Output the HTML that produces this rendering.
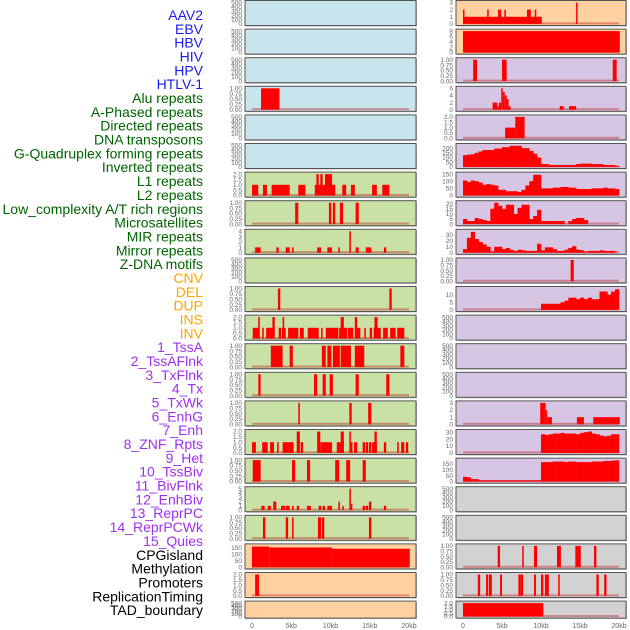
<!DOCTYPE html>
<html><head><meta charset="utf-8">
<style>
html,body{margin:0;padding:0;background:#fff;width:630px;height:630px;overflow:hidden}
svg{display:block}
text{font-family:"Liberation Sans",sans-serif}
</style></head>
<body>
<svg id="chart" width="630" height="630" viewBox="0 0 630 630"></svg>
<script>
// ---------- labels ----------
const trackLabels = ["AAV2","EBV","HBV","HIV","HPV","HTLV-1","Alu repeats","A-Phased repeats","Directed repeats","DNA transposons","G-Quadruplex forming repeats","Inverted repeats","L1 repeats","L2 repeats","Low_complexity A/T rich regions","Microsatellites","MIR repeats","Mirror repeats","Z-DNA motifs","CNV","DEL","DUP","INS","INV","1_TssA","2_TssAFlnk","3_TxFlnk","4_Tx","5_TxWk","6_EnhG","7_Enh","8_ZNF_Rpts","9_Het","10_TssBiv","11_BivFlnk","12_EnhBiv","13_ReprPC","14_ReprPCWk","15_Quies","CPGisland","Methylation","Promoters","ReplicationTiming","TAD_boundary"];
const labelGroups = [6,13,5,15,5];
const groupColors = ["#1a1aee","#006400","#ffa500","#a030f0","#000000"];
const xTickValues = [0,5,10,15,20];
const xTickLabels = ["0","5kb","10kb","15kb","20kb"];

// ---------- tick sets ----------
const ticksEmpty = [0,100,200,300,400,500];
const ticksOne = [0,0.25,0.5,0.75,1.0];
const ticksTwo = [0,0.5,1.0,1.5,2.0];

// ---------- column 1 data (segments: [startKb, endKb, value]) ----------
const segHIV = [[1.15,3.5,1]];
const segL1 = [[0,0.8,1],[1.4,1.9,1],[2.5,3.3,1],[3.3,4.8,1],[5.9,6.8,1],[8.0,9.0,1],[8.2,8.5,2],[8.7,9.0,2],[9.0,10.6,1],[9.3,10.2,2],[11.5,12.0,1],[12.6,13.1,1],[15.3,15.9,1],[16.6,17.5,1]];
const segL2 = [[5.5,5.9,1],[9.8,10.1,1],[10.3,10.6,1],[11.2,11.6,1],[13.2,13.6,1]];
const segLowC = [[0.4,1.1,1],[3.1,3.4,1],[4.3,4.8,1],[5.1,5.3,1],[8.3,8.8,1],[9.6,10.2,1],[11.0,11.2,1],[12.4,12.6,4],[13.2,13.6,1],[14.5,15.2,1],[16.8,17.1,1]];
const segMIR = [[3.3,3.6,1],[17.5,17.8,1]];
const segMirror = [[0.1,0.9,1],[0.8,1.0,2],[1.3,1.5,1],[1.8,2.8,1],[2.6,2.9,2],[3.4,3.7,1],[3.8,4.3,1],[3.9,4.1,2],[4.6,5.9,1],[6.1,6.6,1],[7.1,8.5,1],[8.8,9.0,1],[9.4,11.0,1],[11.1,12.1,1],[11.3,11.7,2],[12.2,12.9,1],[13.1,13.8,1],[13.1,13.4,2],[14.3,14.5,1],[15.0,15.3,1],[15.5,16.4,1],[15.6,16.0,2],[16.7,17.3,1],[17.6,18.3,1],[18.5,19.4,1]];
const segZDNA = [[2.4,3.9,1],[4.8,5.2,1],[8.9,9.4,1],[9.6,10.1,1],[10.3,11.2,1],[11.3,12.6,1],[13.1,14.3,1],[18.9,19.4,1]];
const segCNV = [[0.8,1.1,1],[7.9,8.3,1],[9.0,9.4,1],[9.9,10.3,1],[13.2,13.6,1],[17.1,17.5,1]];
const segDEL = [[5.9,6.1,1],[12.4,12.7,1],[14.8,15.2,1]];
const segDUP = [[0,0.5,1],[1.3,2.0,1],[2.3,2.8,1],[3.2,3.4,1],[3.9,5.3,1],[5.7,6.1,2],[6.2,6.5,1],[8.3,8.7,2],[8.7,8.9,1],[8.9,10.2,1],[10.8,11.7,1],[11.3,11.7,2],[12.4,12.6,2],[12.6,12.8,1],[13.0,13.4,1],[14.1,14.4,1],[14.5,14.8,1],[14.9,15.2,1],[15.3,15.9,1],[15.6,15.9,2],[16.8,17.1,1],[18.5,18.7,1],[19.0,19.4,1],[19.6,19.9,1]];
const segINSa = [[0.1,1.1,1],[5.1,5.5,1],[7.0,7.4,1],[10.6,11.1,1],[12.0,12.5,1],[14.1,14.5,1]];
const segINVa = [[1.2,1.6,1],[2.0,2.4,1],[2.7,3.1,2],[3.7,4.2,1],[4.3,4.8,1],[5.1,5.3,1],[5.7,6.0,1],[7.0,7.5,1],[8.5,8.8,1],[9.0,9.3,1],[9.6,10.2,1],[11.0,11.2,2],[11.5,11.7,1],[12.4,12.6,5],[12.6,12.75,1.5],[14.1,14.4,1],[14.5,14.8,1],[14.9,15.2,2],[16.8,17.1,1]];
const segR18 = [[1.4,1.7,1],[4.3,4.6,1],[5.1,5.3,1],[8.4,8.8,1],[8.9,9.2,1],[14.9,15.2,1]];
const segCpG = [[0,2.2,160],[2.2,10.2,153],[10.2,20.1,143]];
const segMeth = [[0.4,0.9,2]];

// ---------- column 2 data ----------
const segINS = [[0,0.1,2],[0.1,10.1,1],[3.1,3.3,2],[4.5,4.9,2],[5.3,5.5,2],[8.2,8.7,2],[9.2,9.4,2],[14.5,14.6,3]];
const segINV = [[0,20.1,8]];
const segTssA = [[1.3,1.8,1],[5.0,5.6,1],[19.2,19.7,1]];
const segTssAFlnk = [[3.8,4.4,2],[4.4,4.6,1],[4.6,4.9,2],[4.9,5.1,6],[5.1,5.35,5],[5.35,5.6,4],[5.6,5.85,3],[5.85,6.1,1],[12.4,12.9,1],[13.6,14.5,1]];
const segTxFlnk = [[5.4,6.7,1],[6.7,7.9,2]];
const binTx = [125,130,135,150,165,180,180,180,195,195,210,210,225,225,225,200,200,170,140,100,30,30,20,20,20,20,20,20,20,30,35,35,35,30,30,30,20,20,20,10];
const binTxWk = [105,95,105,100,90,75,80,75,70,40,40,30,30,30,25,40,70,100,145,145,50,50,50,55,55,60,60,55,55,45,45,45,45,50,50,50,55,50,50,45];
const binEnhG = [5,3,3,6,5,4,3,15,21,18,15,19,19,10,16,19,19,5,8,14,3,3,3,3,3,3,0,3,5,6,6,4,0,0,0,0,0,0,0,0];
const binEnh = [6,25,35,23,18,14,10,2,10,10,6,8,5,3,5,4,3,3,3,15,4,9,9,6,3,3,5,8,11,5,4,2,3,3,3,4,3,3,3,0];
const segHet = [[13.8,14.2,1]];
const binTssBiv = [0,0,0,0,0,0,0,0,0,0,0,0,0,0,0,0,0,0,0,0,4,4,4,4,4,5,6,8,8,7,8,7,8,7,7,12,12,10,12,13.5];
const segEnhBiv = [[9.9,10.6,3],[10.6,10.8,2],[10.8,11.4,1],[14.6,15.5,1],[16.7,20.1,1]];
const binReprPC = [0,0,0,0,0,0,0,0,0,0,0,0,0,0,0,0,0,0,0,0,27,26,27,28,28,29,28,28,28,27,29,30,31,28,27,25,24,25,27,27];
const binReprPCWk = [40,35,20,20,10,10,10,10,10,10,10,10,10,10,10,10,10,10,10,10,165,165,165,170,170,170,165,170,170,165,165,165,165,170,170,170,175,175,178,180];
const segMethyl2 = [[4.45,4.75,1],[7.6,7.8,1],[9.1,9.5,1],[12.05,12.55,1],[14.4,15.1,1],[16.8,17.1,1]];
const segProm = [[1.9,2.2,1],[2.95,3.2,1],[3.3,3.7,1],[4.75,5.0,1],[7.1,7.4,1],[7.4,7.7,1],[9.1,9.35,1],[10.0,10.3,1],[10.5,11.0,1],[12.2,12.4,1],[17.1,17.4,1],[18.1,18.4,1]];
const segTAD = [[0,10.3,2]];

// ---------- panel definitions ----------
const BLUE="#c8e4ec", GREEN="#c9e1a5", ORANGE="#ffd1a1", PURPLE="#d7c6e3", GRAY="#d2d2d2";
const panels = [
 // col 1
 {c:0,r:0,bg:BLUE,t:ticksEmpty},{c:0,r:1,bg:BLUE,t:ticksEmpty},{c:0,r:2,bg:BLUE,t:ticksEmpty},
 {c:0,r:3,bg:BLUE,t:ticksOne,seg:segHIV},{c:0,r:4,bg:BLUE,t:ticksEmpty},{c:0,r:5,bg:BLUE,t:ticksEmpty},
 {c:0,r:6,bg:GREEN,t:ticksTwo,seg:segL1},{c:0,r:7,bg:GREEN,t:ticksOne,seg:segL2},
 {c:0,r:8,bg:GREEN,t:[0,1,2,3,4],seg:segLowC},{c:0,r:9,bg:GREEN,t:ticksEmpty},
 {c:0,r:10,bg:GREEN,t:ticksOne,seg:segMIR},{c:0,r:11,bg:GREEN,t:ticksTwo,seg:segMirror},
 {c:0,r:12,bg:GREEN,t:ticksOne,seg:segZDNA},{c:0,r:13,bg:GREEN,t:ticksOne,seg:segCNV},
 {c:0,r:14,bg:GREEN,t:ticksOne,seg:segDEL},{c:0,r:15,bg:GREEN,t:ticksTwo,seg:segDUP},
 {c:0,r:16,bg:GREEN,t:ticksOne,seg:segINSa},{c:0,r:17,bg:GREEN,t:[0,1,2,3,4,5],seg:segINVa},
 {c:0,r:18,bg:GREEN,t:ticksOne,seg:segR18},{c:0,r:19,bg:ORANGE,t:[0,50,100,150],max:165,seg:segCpG},
 {c:0,r:20,bg:ORANGE,t:ticksTwo,seg:segMeth},{c:0,r:21,bg:ORANGE,t:ticksEmpty},
 // col 2
 {c:1,r:0,bg:ORANGE,t:[0,1,2,3],seg:segINS},{c:1,r:1,bg:ORANGE,t:[0,2,4,6,8],seg:segINV},
 {c:1,r:2,bg:PURPLE,t:ticksOne,seg:segTssA},{c:1,r:3,bg:PURPLE,t:[0,2,4,6],seg:segTssAFlnk},
 {c:1,r:4,bg:PURPLE,t:ticksTwo,seg:segTxFlnk},{c:1,r:5,bg:PURPLE,t:[0,50,100,150,200],max:228,bin:binTx},
 {c:1,r:6,bg:PURPLE,t:[0,50,100,150],bin:binTxWk},{c:1,r:7,bg:PURPLE,t:[0,5,10,15,20],max:21,bin:binEnhG},
 {c:1,r:8,bg:PURPLE,t:[0,10,20,30],max:36,bin:binEnh},{c:1,r:9,bg:PURPLE,t:ticksOne,seg:segHet},
 {c:1,r:10,bg:PURPLE,t:[0,5,10],max:14,bin:binTssBiv},{c:1,r:11,bg:PURPLE,t:ticksEmpty},
 {c:1,r:12,bg:PURPLE,t:ticksEmpty},{c:1,r:13,bg:PURPLE,t:ticksEmpty},
 {c:1,r:14,bg:PURPLE,t:[0,1,2,3],seg:segEnhBiv},{c:1,r:15,bg:PURPLE,t:[0,10,20,30],max:31,bin:binReprPC},
 {c:1,r:16,bg:PURPLE,t:[0,50,100,150],max:182,bin:binReprPCWk},{c:1,r:17,bg:GRAY,t:ticksEmpty},
 {c:1,r:18,bg:GRAY,t:ticksEmpty},{c:1,r:19,bg:GRAY,t:ticksOne,seg:segMethyl2},
 {c:1,r:20,bg:GRAY,t:ticksOne,seg:segProm},{c:1,r:21,bg:GRAY,t:ticksTwo,seg:segTAD}
];

// ---------- drawing ----------
const NS="http://www.w3.org/2000/svg";
const svg=document.getElementById('chart');
function mk(tag,attrs,parent){const e=document.createElementNS(NS,tag);for(const k in attrs)e.setAttribute(k,attrs[k]);(parent||svg).appendChild(e);return e;}
const colBox=[{x0:245,x1:416,z:252,w:157},{x0:456,x1:626,z:463,w:156}];
function xScale(c,kb){return colBox[c].z+kb/20*colBox[c].w;}
function rowTop(r){return 0.5+r*28.6;}
function rowH(r){return r===21?17:25;}

// labels
let li=0;
labelGroups.forEach((n,g)=>{for(let k=0;k<n;k++){
  const t=mk('text',{x:203,y:20+li*13.84,'text-anchor':'end','font-size':'14',fill:groupColors[g]});
  t.textContent=trackLabels[li];
  
  
  li++;}});

panels.forEach((p,idx)=>{
  const g=mk('g',{});
  
  
  const cb=colBox[p.c], top=rowTop(p.r), h=rowH(p.r), bot=top+h;
  mk('rect',{x:cb.x0+1,y:top+1,width:cb.x1-cb.x0,height:h,fill:'#bbb'},g);
  mk('rect',{x:cb.x0,y:top,width:cb.x1-cb.x0,height:h,fill:p.bg,stroke:'#555','stroke-width':1},g);
  const y0=bot-1.6, yT=top+2;
  const mx=p.max||p.t[p.t.length-1];
  const ys=v=>y0-(v/mx)*(y0-yT);
  p.t.forEach(v=>{
    const t=mk('text',{x:cb.x0-3,y:ys(v)+2.2,'text-anchor':'end','font-size':'6.5',fill:'#666'},g);
    t.textContent=(p.t===ticksOne)?v.toFixed(2):(p.t===ticksTwo?v.toFixed(1):String(v));
  });
  if(p.seg||p.bin){
    mk('rect',{x:xScale(p.c,0),y:y0-1.5,width:xScale(p.c,20)-xScale(p.c,0),height:2,fill:'rgba(190,40,40,0.45)'},g);
  }
  if(p.seg){p.seg.forEach(s=>{
    const b=mk('rect',{x:xScale(p.c,s[0]),y:ys(s[2]),width:Math.max(1.5,xScale(p.c,s[1])-xScale(p.c,s[0])),height:y0-ys(s[2]),fill:'#ff0000'},g);
    
    
  });}
  if(p.bin){p.bin.forEach((v,i)=>{
    if(v<=0)return;
    const b=mk('rect',{x:xScale(p.c,i*0.5),y:ys(v),width:xScale(p.c,(i+1)*0.5)-xScale(p.c,i*0.5)+0.3,height:y0-ys(v),fill:'#ff0000'},g);
    
    
  });}
});

// x axes
[0,1].forEach(c=>{
  xTickValues.forEach((v,i)=>{
    const t=mk('text',{x:xScale(c,v),y:628,'text-anchor':'middle','font-size':'7',fill:'#666'});
    t.textContent=xTickLabels[i];
    
    
  });
});
</script>
</body></html>
